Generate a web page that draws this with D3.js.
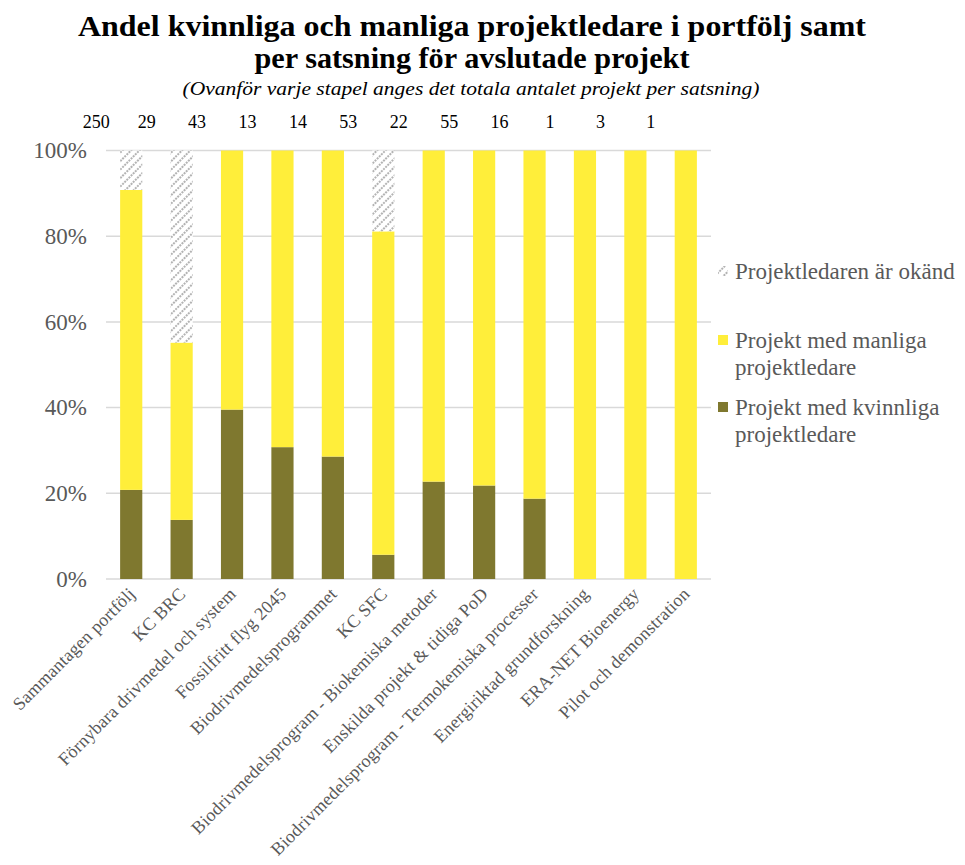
<!DOCTYPE html>
<html>
<head>
<meta charset="utf-8">
<script src="https://cdn.jsdelivr.net/npm/d3@7/dist/d3.min.js"></script>
<style>
  html, body { margin: 0; padding: 0; background: #fff; }
  svg text { font-family: "Liberation Serif", "Times New Roman", serif; }
</style>
</head>
<body>
<svg id="chart" width="965" height="865"></svg>
<script>
// Satsningar (categories) and project counts per project-leader group
const categories = [
  "Sammantagen portfölj", "KC BRC", "Förnybara drivmedel och system", "Fossilfritt flyg 2045",
  "Biodrivmedelsprogrammet", "KC SFC", "Biodrivmedelsprogram - Biokemiska metoder",
  "Enskilda projekt & tidiga PoD", "Biodrivmedelsprogram - Termokemiska processer",
  "Energiriktad grundforskning", "ERA-NET Bioenergy", "Pilot och demonstration"
];
const womenLed  = [52, 4, 17, 4, 4, 3, 5, 12, 3, 0, 0, 0];
const menLed    = [175, 12, 26, 9, 10, 40, 17, 43, 13, 1, 3, 1];
const unknownLed = [23, 13, 0, 0, 0, 10, 0, 0, 0, 0, 0, 0];
const totals    = [250, 29, 43, 13, 14, 53, 22, 55, 16, 1, 3, 1];
const yTicks    = [0, 0.2, 0.4, 0.6, 0.8, 1.0];

const seriesKeys = ["women", "men", "unknown"];
const colors = { women: "#7f782f", men: "#ffee3a", unknown: "url(#hatch)" };

const rows = categories.map((c, i) => ({
  cat: c,
  women: womenLed[i] / totals[i],
  men: menLed[i] / totals[i],
  unknown: unknownLed[i] / totals[i],
  total: totals[i]
}));

const svg = d3.select("#chart");
const textGrey = "#595959";

// diagonal hatch for the unknown share
const defs = svg.append("defs");
const pat = defs.append("pattern")
  .attr("id", "hatch").attr("patternUnits", "userSpaceOnUse")
  .attr("width", 6).attr("height", 6)
  .attr("patternTransform", "rotate(45)");
pat.append("rect").attr("width", 6).attr("height", 6).attr("fill", "#fff");
pat.append("line").attr("x1", 1).attr("y1", 0).attr("x2", 1).attr("y2", 6)
  .attr("stroke", "#9a9a9a").attr("stroke-width", 1.5).attr("stroke-dasharray", "2,1");

const plot = { left: 106, right: 711, top: 150.5, bottom: 579 };

const x = d3.scaleBand().domain(categories)
  .range([plot.left, plot.right]).paddingInner(0.56).paddingOuter(0.28);
const y = d3.scaleLinear().domain([0, 1]).range([plot.bottom, plot.top]);

// Title
svg.append("text").attr("x", 472).attr("y", 36).attr("text-anchor", "middle")
  .attr("font-size", 30).attr("font-weight", "bold").attr("fill", "#000")
  .attr("textLength", 788).attr("lengthAdjust", "spacingAndGlyphs")
  .text("Andel kvinnliga och manliga projektledare i portfölj samt");
svg.append("text").attr("x", 472).attr("y", 68).attr("text-anchor", "middle")
  .attr("font-size", 30).attr("font-weight", "bold").attr("fill", "#000")
  .attr("textLength", 435).attr("lengthAdjust", "spacingAndGlyphs")
  .text("per satsning för avslutade projekt");
svg.append("text").attr("x", 471).attr("y", 95).attr("text-anchor", "middle")
  .attr("font-size", 19).attr("font-style", "italic").attr("fill", "#000")
  .attr("textLength", 577).attr("lengthAdjust", "spacingAndGlyphs")
  .text("(Ovanför varje stapel anges det totala antalet projekt per satsning)");

// Gridlines
svg.append("g").selectAll("line").data(yTicks).join("line")
  .attr("x1", plot.left).attr("x2", plot.right)
  .attr("y1", d => y(d)).attr("y2", d => y(d))
  .attr("stroke", "#d9d9d9").attr("stroke-width", 1.5);

// Y axis labels
const yAxis = d3.axisLeft(y).tickValues(yTicks).tickFormat(d3.format(".0%")).tickSize(0).tickPadding(19);
const yg = svg.append("g").attr("transform", `translate(${plot.left},0)`).call(yAxis);
yg.select(".domain").remove();
yg.selectAll("text").attr("font-size", 23).attr("fill", textGrey)
  .attr("font-family", "Liberation Serif, serif");

// Stacked bars
const stack = d3.stack().keys(seriesKeys)(rows);
svg.append("g").selectAll("g").data(stack).join("g")
  .attr("fill", d => colors[d.key])
  .selectAll("rect").data(d => d).join("rect")
  .attr("x", d => x(d.data.cat))
  .attr("width", x.bandwidth())
  .attr("y", d => y(d[1]))
  .attr("height", d => y(d[0]) - y(d[1]));

// Total counts row above bars
svg.append("g").selectAll("text").data(rows).join("text")
  .attr("x", d => x(d.cat) + x.bandwidth() / 2 - 35)
  .attr("y", 128)
  .attr("text-anchor", "middle").attr("font-size", 18).attr("fill", "#000")
  .text(d => d.total);

// X axis labels, rotated
const xAxis = d3.axisBottom(x).tickSize(0).tickPadding(0);
const xg = svg.append("g").attr("transform", `translate(0,${plot.bottom})`).call(xAxis);
xg.select(".domain").remove();
xg.selectAll("text")
  .attr("font-size", 18).attr("fill", textGrey).attr("font-family", "Liberation Serif, serif")
  .attr("letter-spacing", 0.2)
  .attr("text-anchor", "end").attr("dy", null).attr("y", 0).attr("x", 0)
  .attr("transform", "translate(5,16) rotate(-45)");

// Legend
const legend = svg.append("g").attr("transform", "translate(718,0)");
const legendItems = [
  { key: "unknown", lines: ["Projektledaren är okänd"], y: 272 },
  { key: "men", lines: ["Projekt med manliga", "projektledare"], y: 341 },
  { key: "women", lines: ["Projekt med kvinnliga", "projektledare"], y: 408 }
];
legendItems.forEach(it => {
  legend.append("rect").attr("x", 0).attr("y", it.y - 6).attr("width", 10).attr("height", 10)
    .attr("fill", colors[it.key]);
  const t = legend.append("text").attr("x", 17).attr("y", it.y + 7)
    .attr("font-size", 23).attr("fill", textGrey);
  it.lines.forEach((l, i) => t.append("tspan").attr("x", 17).attr("dy", i === 0 ? 0 : 27).text(l));
});
</script>
</body>
</html>
